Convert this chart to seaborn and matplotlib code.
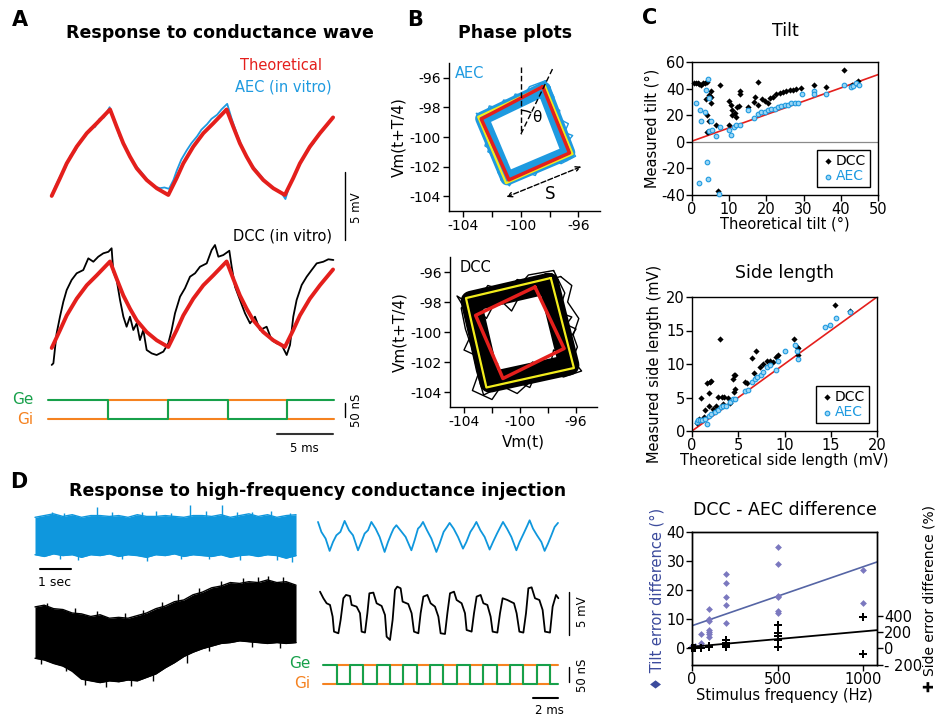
import numpy as np
import matplotlib
matplotlib.use("Agg")
import matplotlib.pyplot as plt
from matplotlib.patches import Arc
import seaborn as sns

sns.set_style("ticks")
plt.rcParams["font.family"] = ["DejaVu Sans"]
plt.rcParams["axes.unicode_minus"] = False
for k in ["text.color", "axes.labelcolor", "xtick.color", "ytick.color", "axes.edgecolor"]:
    plt.rcParams[k] = "black"

BLUE = "#1e9ae0"
DBLUE = "#0f97dd"
RED = "#e41f1c"
GREEN = "#17a04a"
ORANGE = "#f58220"
YELLOW = "#f2ec1c"
PURPLE = "#7b78bf"
SLATE = "#3b4a9c"

# ---- A: response to conductance wave (ms, mV relative to trough)
theo_t = [0.33, 1.07, 1.67, 2.56, 3.46, 4.35, 5.54, 6.13, 6.72, 7.32, 7.92, 8.81, 9.71, 10.74,
          11.48, 12.08, 12.97, 13.87, 14.76, 15.95, 16.54, 17.13, 17.73, 18.33, 19.22, 20.12, 21.15,
          21.89, 22.49, 23.38, 24.28, 25.45]
theo_v = [-0.07, 1.23, 2.32, 3.55, 4.54, 5.27, 6.29, 5.02, 3.8, 2.82, 1.96, 1.1, 0.49, 0,
          1.23, 2.32, 3.55, 4.54, 5.27, 6.29, 5.02, 3.8, 2.82, 1.96, 1.1, 0.49, 0,
          1.23, 2.32, 3.55, 4.54, 5.7]
aec_t = [0.3, 0.7, 1.1, 1.5, 2.0, 2.4, 2.9, 3.3, 3.8, 4.2, 4.6, 5.0,
         5.5, 5.9, 6.4, 6.9, 7.3, 7.8, 8.2, 8.7, 9.1, 9.6, 10.0, 10.4, 10.8,
         11.2, 11.5, 11.9, 12.4, 12.8, 13.3, 13.7, 14.2, 14.6, 15.1, 15.5, 16.0,
         16.4, 16.9, 17.3, 17.7, 18.2, 18.6, 19.1, 19.5, 20.0, 20.4, 20.8, 21.2,
         21.6, 21.9, 22.4, 22.8, 23.2, 23.7, 24.1, 24.6, 25.0, 25.5]
aec_v = [-0.1, 0.7, 1.4, 1.9, 2.9, 3.2, 4.0, 4.3, 4.9, 5.0, 5.6, 5.7,
         6.45, 5.6, 4.3, 3.6, 2.8, 2.2, 1.8, 1.3, 0.9, 0.6, 0.5, 0.55, 0.45,
         1.1, 1.8, 2.6, 3.3, 3.8, 4.3, 4.8, 5.2, 5.6, 5.9, 6.3, 6.7,
         5.6, 4.4, 3.6, 2.9, 2.2, 1.8, 1.3, 0.9, 0.5, 0.4, 0.2, -0.3,
         0.8, 1.3, 2.1, 2.7, 3.3, 3.8, 4.4, 4.8, 5.2, 5.75]
dcc_t = [0.33, 0.48, 0.77, 1.07, 1.37, 1.67, 2.11, 2.56, 3.15, 3.6,
         4.05, 4.49, 4.94, 5.39, 5.68, 5.83, 6.13, 6.43, 6.73, 7.02,
         7.32, 7.62, 7.92, 8.21, 8.51, 8.81, 9.26, 9.7, 10.3, 10.74,
         11.04, 11.34, 11.79, 12.23, 12.68, 13.13, 13.57, 14.17, 14.61, 14.91,
         15.21, 15.65, 16.19, 16.4, 16.7, 17.14, 17.59, 18.04, 18.48, 18.93,
         19.52, 19.97, 20.42, 20.86, 21.31, 21.61, 21.9, 22.2, 22.65, 23.1,
         23.54, 23.99, 24.58, 25.03, 25.48]
dcc_v = [-1.32, -1.2, 1.0, 2.23, 3.33, 4.19, 4.93, 5.42, 5.66, 6.52,
         6.27, 6.64, 6.89, 7.0, 7.26, 5.54, 4.93, 3.46, 2.23, 1.49,
         2.23, 1.25, 1.74, 0.51, 1.25, -0.22, -0.47, -0.59, -0.34, 0.27,
         1.25, 2.48, 3.7, 4.32, 5.17, 5.42, 5.9, 6.15, 7.13, 7.5,
         6.64, 6.76, 7.08, 5.9, 4.43, 3.46, 2.48, 1.74, 2.23, 1.25,
         1.49, 0.51, 0.27, 0.15, -0.59, 0.15, 2.23, 3.46, 4.56, 5.17,
         5.66, 6.15, 6.27, 6.45, 6.4]
ge_a_t = [0, 5.36, 10.71, 16.07, 21.34, 25.54]
ge_a = [80, 12, 80, 12, 80, 80]
gi_a = [12, 80, 12, 80, 12, 12]

# ---- B: phase plots (mV)
aec_red_x = [-98.48, -102.76, -100.83, -96.62, -98.48]
aec_red_y = [-96.6, -98.78, -102.9, -101.08, -96.6]
aec_yel_x = [-98.34, -102.97, -101.03, -96.41, -98.34]
aec_yel_y = [-96.54, -98.64, -103.12, -101.15, -96.54]
aec_band_x = [-98.4, -102.7, -100.95, -96.7, -98.4]
aec_band_y = [-96.75, -98.75, -102.8, -101.05, -96.75]
aec_loop1_x = [-98.3, -99.4, -100.1, -101.2, -101.8, -103.1, -102.2, -102.5, -101.5, -101.6, -100.8,
               -100.1, -99.0, -98.4, -97.2, -96.2, -97.1, -96.7, -97.9, -97.7, -98.3]
aec_loop1_y = [-96.2, -96.6, -97.7, -97.5, -98.6, -98.4, -99.5, -100.6, -101.2, -102.4, -103.3,
               -102.2, -102.6, -101.5, -101.8, -101.3, -100.0, -99.1, -98.5, -97.3, -96.2]
aec_loop2_x = [-98.6, -99.1, -100.4, -100.9, -102.2, -102.6, -101.9, -102.3, -101.0, -101.4, -100.2,
               -99.4, -98.6, -97.6, -96.8, -97.0, -96.4, -97.5, -97.3, -98.2, -98.6]
aec_loop2_y = [-96.9, -97.3, -97.1, -98.2, -97.9, -99.1, -99.8, -101.0, -101.6, -102.9, -102.9,
               -101.9, -102.2, -101.2, -101.6, -100.6, -99.9, -99.5, -98.2, -97.7, -96.9]
dcc_red_x = [-98.93, -103.17, -101.22, -96.85, -98.93]
dcc_red_y = [-97.0, -98.89, -103.1, -101.1, -97.0]
dcc_yel_x = [-97.8, -103.86, -102.4, -96.15, -97.8]
dcc_yel_y = [-96.4, -97.74, -103.7, -102.4, -96.4]
dcc_band_x = [-97.95, -103.5, -102.15, -96.5, -97.95]
dcc_band_y = [-96.75, -97.95, -103.35, -102.2, -96.75]
dcc_loop1_x = [-97.6, -99.4, -100.5, -102.3, -103.3, -104.5, -103.2, -104.0, -102.6, -103.4, -102.0,
               -100.9, -99.3, -98.6, -96.9, -95.6, -96.9, -96.0, -97.4, -96.8, -97.6]
dcc_loop1_y = [-95.9, -96.2, -97.4, -96.9, -98.3, -97.6, -99.6, -101.2, -101.8, -103.9, -104.5,
               -103.0, -103.7, -102.2, -103.0, -102.6, -101.1, -99.8, -99.2, -97.4, -95.9]
dcc_loop2_x = [-98.4, -99.8, -100.6, -101.6, -102.4, -103.3, -102.5, -102.9, -101.6, -101.9, -100.6,
               -99.9, -99.1, -97.9, -97.6, -96.5, -97.3, -96.3, -97.5, -97.2, -98.4]
dcc_loop2_y = [-97.5, -97.2, -98.6, -97.7, -99.1, -98.2, -100.4, -101.8, -102.1, -103.2, -102.6,
               -103.3, -102.0, -102.5, -101.2, -101.5, -100.3, -99.0, -98.6, -97.4, -97.5]
dcc_loop3_x = [-97.1, -98.9, -100.2, -101.2, -103.0, -104.2, -103.9, -103.5, -103.1, -102.6, -101.3,
               -100.2, -98.9, -97.6, -96.4, -95.9, -96.2, -95.8, -96.6, -96.3, -97.1]
dcc_loop3_y = [-96.3, -96.8, -96.5, -97.5, -97.3, -98.4, -99.8, -100.9, -102.6, -104.2, -103.6,
               -104.1, -103.0, -102.9, -102.1, -101.0, -100.2, -99.1, -98.0, -96.9, -96.3]

# ---- C: tilt, side length, DCC-AEC difference
tilt_dcc_x = [0.5, 1, 1.5, 2, 2.5, 3, 3.5, 4, 3.7, 4.7, 4, 4.6, 3.9, 4.4, 5.2, 5.2, 5.2, 6.4, 7.4, 7.0,
              9.9, 10.6, 10.8, 10, 10.8, 11.5, 11.9, 12, 12.8, 12.8, 12.5,
              15, 16.9, 17.7, 16.8, 17.7, 18.9, 19.5, 20.3, 20.9, 21.8, 22.7, 23.6, 24.5, 25.4, 26.3,
              27.1, 28, 29.4, 32.8, 36.1, 40.9, 43.1, 44, 44.6]
tilt_dcc_y = [44, 44, 44, 43.5, 43, 44, 44, 45, 32, 35, 20, 16, 7, 7.5, 38, 34, 29, 12.5, 43, -37,
              30.5, 28, 24, 12.5, 20, 22, 19, 26, 36, 38, 27,
              26, 34, 45, 30, 27.5, 32, 31, 29, 33, 34, 36, 37, 37.5, 38, 39,
              39, 40, 40.5, 42.5, 41, 54, 42.5, 44, 45.5]
tilt_aec_x = [1, 2.2, 2.5, 3.4, 3.7, 4.4, 4.7, 4, 4.4, 1.9, 4.7, 5.5, 5.2, 6.4, 7.4, 7.3,
              9.9, 10.6, 11.3, 11.9, 12.8, 15, 16.8, 17.7, 18.6, 19.5, 20.4, 21.3, 22.2, 23.1,
              24, 24.9, 25.8, 26.7, 27.6, 28.5, 29.7, 32.8, 32.8, 36.1, 40.9, 42.8, 43.3, 44.2, 44.9]
tilt_aec_y = [29, 24, 16, 22.5, 39, 47, 33, -15, -28, -31, 8, 9, 16, 4, 11, -39,
              9, 5, 11, 12.5, 12.5, 24, 18, 21, 22.5, 22.5, 24, 25, 25, 26,
              27, 27.5, 28, 29, 29, 29, 36, 38, 36, 36, 43, 41, 42, 44, 43]
side_dcc_x = [0.5, 0.8, 1, 1.3, 1.4, 1.6, 1.9, 2, 1.8, 1.8, 2.3, 2.6, 3, 2.8, 3.2, 3.5, 3.9, 3.4, 4.1,
              4.4, 4.5, 4.7, 4.7, 4.5, 5.7, 5.9, 6.5, 6.9, 6.7, 7.4, 7.7, 8.1, 8.4, 8.8, 9.1, 9.3,
              11, 11.3, 11.5, 11.5, 15.5, 17.1]
side_dcc_y = [1.2, 1.8, 5, 2.1, 3.1, 7.1, 7.3, 7.5, 5.6, 3.8, 3.3, 3.8, 13.8, 5.1, 5.1, 5.1, 5, 4.1, 4.2,
              7.7, 8.3, 8.3, 6.3, 5.8, 7.3, 7.1, 10.9, 12, 8.6, 9.5, 10, 10.5, 10.5, 10.3, 11.1, 11.3,
              13.8, 12.6, 12.4, 11.3, 18.8, 17.9]
side_aec_x = [0.5, 0.7, 0.9, 1.1, 1.4, 1.6, 1.8, 2.1, 2.5, 2.8, 3.1, 3.4, 3.7, 4.1, 4.4, 4.7,
              5.7, 6, 6.5, 6.8, 7, 7.5, 7.7, 8.1, 8.4, 9.1, 9.3, 10, 11.1, 11.3, 11.5,
              14.4, 14.9, 15.6, 17.1]
side_aec_y = [1.3, 1.6, 1.7, 1.6, 1.8, 1.1, 2.3, 2.6, 2.8, 3.1, 3.6, 3.8, 3.8, 4.3, 4.8, 4.8,
              6, 6.1, 7.3, 7.8, 8.1, 8.3, 8.8, 9.6, 9.8, 9.1, 10.5, 11.9, 12.9, 11.9, 10.8,
              15.5, 15.8, 16.8, 17.8]
tilt_freq = [0, 0, 20, 50, 50, 50, 100, 100, 100, 100, 100, 100, 100, 200, 200, 200, 200, 200,
             500, 500, 500, 500, 500, 500, 1000, 1000]
tilt_err = [0.5, 1.0, 1.0, 4.8, 1.7, 1.2, 13.7, 10.0, 9.3, 6.3, 5.5, 4.8, 3.9, 25.5, 22.5, 17.5, 15.0, 8.8,
            35.0, 29.0, 18.0, 17.5, 13.0, 12.0, 27.0, 15.5]
side_freq = [0, 10, 20, 50, 100, 100, 200, 200, 200, 200, 200, 500, 500, 500, 500, 500, 1000, 1000]
side_err = [0, 10, 8, 0, 28, 15, 102, 69, 53, 33, 20, 286, 184, 151, 102, 20, 388, -69]
fit_freq = [0, 1080]
tilt_fit = [7.8, 29.7]
side_fit = [20, 224]

# ---- D: high-frequency injection (s / ms, mV)
d_t = [0, 0.3, 0.6, 0.9, 1.2, 1.5, 1.8, 2.1, 2.4, 2.7, 3.0, 3.3, 3.6, 3.9, 4.2, 4.5, 4.8, 5.1,
       5.4, 5.7, 6.0, 6.3, 6.6, 6.9, 7.2, 7.5, 7.8, 8.1, 8.42]
aec_hi = [21.0, 21.2, 21.4, 21.1, 21.3, 21.0, 21.2, 21.2, 21.1, 21.2, 21.0, 21.3, 21.1, 21.1, 21.2,
          21.1, 21.0, 21.2, 21.2, 21.1, 21.3, 21.0, 21.2, 21.4, 21.1, 21.3, 21.0, 21.2, 21.3]
aec_lo = [16.7, 16.5, 16.8, 16.6, 16.7, 16.4, 16.7, 16.6, 16.8, 16.5, 16.7, 16.6, 16.4, 16.7, 16.6,
          16.8, 16.5, 16.7, 16.6, 16.5, 16.7, 16.4, 16.6, 16.7, 16.5, 16.7, 16.6, 16.3, 16.6]
aec_spk_t = [0.54, 0.95, 1.99, 2.5, 3.44, 3.9, 4.4, 5.0, 5.5, 6.02, 6.5, 6.99, 7.6, 8.23]
aec_spk_hi = [21.6, 21.5, 22.15, 21.6, 21.6, 21.7, 21.5, 22.4, 21.7, 22.45, 21.6, 21.6, 21.7, 21.5]
aec_spkb_t = [0.8, 1.4, 2.8, 3.6, 4.7, 5.6, 6.6, 7.8, 8.3]
aec_spkb_lo = [16.2, 16.1, 16.2, 16.0, 16.2, 16.2, 16.1, 16.1, 15.9]
dcc_hi = [10.7, 10.9, 10.5, 10.4, 10.0, 9.9, 9.6, 9.8, 9.4, 9.5, 9.4, 9.7, 10.0, 10.5, 10.8,
          11.3, 11.5, 12.1, 12.4, 12.9, 13.1, 13.5, 13.4, 13.6, 13.5, 13.8, 13.5, 13.6, 13.2]
dcc_lo = [4.8, 4.6, 4.2, 3.9, 3.3, 2.4, 2.2, 2.0, 2.2, 2.1, 2.3, 2.2, 2.6, 3.0, 3.7,
          4.3, 5.0, 5.5, 5.9, 6.2, 6.5, 6.6, 6.8, 6.7, 6.6, 6.5, 6.6, 6.5, 6.6]
dcc_spk_t = [0.4, 1.3, 2.0, 2.9, 3.5, 4.1, 4.6, 5.3, 6.0, 6.7, 7.2, 7.5, 8.0]
dcc_spk_hi = [11.2, 10.6, 10.2, 10.0, 10.4, 11.3, 12.2, 12.9, 13.7, 14.0, 14.1, 14.3, 14.1]
dcc_spkb_t = [0.2, 1.0, 1.6, 2.3, 3.1, 3.8, 4.9, 5.6, 7.0, 7.9]
dcc_spkb_lo = [4.1, 3.3, 1.7, 1.5, 1.6, 2.2, 4.3, 5.6, 6.1, 6.0]
bd_t = [0, 0.27, 0.61, 0.93, 1.2, 1.47, 1.79, 2.13, 2.48, 2.8, 3.2, 3.47, 3.73, 4.0, 4.27, 4.61, 4.93,
        5.33, 5.6, 5.87, 6.05, 6.27, 6.59, 7.01, 7.47, 7.73, 8.0, 8.19, 8.4, 8.72, 9.07, 9.47, 9.73,
        10.05, 10.32, 10.53, 10.85, 11.2, 11.6, 11.87, 12.19, 12.45, 12.67, 12.99, 13.33, 13.73, 14.0,
        14.32, 14.59, 14.8, 15.12, 15.47, 15.87, 16.13, 16.45, 16.72, 16.93, 17.2, 17.52, 17.87, 18.13,
        18.4, 18.67, 18.93, 19.2]
bd_v = [3.46, 2.31, 1.54, 0.12, 1.15, 1.92, 2.31, 3.58, 2.5, 1.92, 0.19, 1.15, 2.12, 2.5, 3.46, 2.69,
        1.73, 0, 1.15, 2.12, 2.69, 3.08, 2.5, 1.73, 0.19, 1.35, 2.69, 2.96, 3.46, 2.5, 1.54, 0, 0.96,
        2.31, 2.88, 3.35, 2.69, 1.73, 0.38, 1.15, 2.31, 2.88, 3.46, 2.5, 1.73, 0.27, 1.15, 2.12, 2.88,
        3.46, 2.69, 1.73, 0.19, 1.15, 2.12, 2.96, 3.65, 2.69, 1.92, 1.15, 0.12, 0.96, 1.92, 2.88, 3.35]
kd_t = [0.16, 0.43, 0.69, 0.96, 1.17, 1.28, 1.63, 1.81, 2.03, 2.24, 2.56, 2.69, 3.09, 3.36, 3.49, 3.76,
        3.95, 4.11, 4.43, 4.69, 5.09, 5.36, 5.49, 5.76, 5.97, 6.16, 6.34, 6.61, 6.77, 7.22, 7.49, 7.68,
        8.03, 8.21, 8.43, 8.75, 9.01, 9.36, 9.63, 9.81, 10.16, 10.35, 10.56, 10.88, 11.09, 11.49, 11.76,
        11.89, 12.29, 12.48, 12.69, 13.01, 13.23, 13.55, 13.81, 13.97, 14.35, 14.56, 14.77, 15.15, 15.41,
        15.68, 15.89, 16.11, 16.43, 16.64, 16.83, 17.09, 17.36, 17.71, 17.97, 18.16, 18.56, 18.77, 19.04,
        19.23]
kd_v = [4.8, 4.04, 3.46, 3.27, 1.92, 0.19, 0, 1.54, 4.04, 4.42, 4.3, 3.27, 3.07, 2.31, 0.19, 0.08,
        2.31, 4.61, 4.69, 3.46, 3.15, 2.11, -0.39, -0.77, 1.54, 5.0, 5.38, 5.19, 3.65, 3.38, 2.31, 0.19,
        0, 2.31, 4.23, 4.42, 3.46, 3.07, 1.92, 0, -0.08, 2.31, 4.61, 4.8, 3.84, 3.46, 2.31,
        0.38, 0.19, 2.31, 4.23, 4.42, 3.46, 3.27, 1.92, 0.19, 0.08, 2.31, 4.04, 3.84, 3.65,
        3.46, 2.31, 0.19, 0.08, 2.31, 5.19, 5.3, 4.04, 3.84, 2.69, 0.19, 0.08, 3.07, 4.42,
        4.04]
ge_d_t = [0.43, 1.5, 2.56, 3.63, 4.7, 5.76, 6.83, 7.9, 8.97, 10.03, 11.1, 12.17, 13.23, 14.3, 15.37,
          16.43, 17.5, 18.57, 19.23]
ge_d = [72, 10, 72, 10, 72, 10, 72, 10, 72, 10, 72, 10, 72, 10, 72, 10, 72, 10, 10]
gi_d = [10, 72, 10, 72, 10, 72, 10, 72, 10, 72, 10, 72, 10, 72, 10, 72, 10, 72, 72]

W, H = 936, 720
fig = plt.figure(figsize=(W / 100, H / 100), dpi=100)


def px_axes(x0, y0, x1, y1):
    return fig.add_axes([x0 / W, 1 - y1 / H, (x1 - x0) / W, (y1 - y0) / H])


def ftext(x, y, s, **kw):
    kw.setdefault("ha", "center")
    kw.setdefault("va", "center")
    fig.text(x / W, 1 - y / H, s, **kw)


# panel letters and titles
for lx, ly, s in [(20, 20, "A"), (415, 20, "B"), (650, 18, "C"), (19, 482, "D")]:
    ftext(lx, ly, s, fontsize=15, fontweight="bold")
ftext(220, 33, "Response to conductance wave", fontsize=12.5, fontweight="bold")
ftext(515, 33, "Phase plots", fontsize=12.5, fontweight="bold")
ftext(318, 491, "Response to high-frequency conductance injection", fontsize=12.5, fontweight="bold")

# ---------------- A
ax_a = px_axes(40, 50, 370, 460)
ax_a.set_axis_off()
ax_a.set_xlim(-0.714, 28.75)
ax_a.set_ylim(0, 30.15)
aec_base, dcc_base = 19.49, 8.31
ax_a.plot(aec_t, np.array(aec_v) + aec_base, color=BLUE, lw=1.3)
ax_a.plot(theo_t, np.array(theo_v) + aec_base, color=RED, lw=2.8, solid_joinstyle="round")
ax_a.plot(dcc_t, np.array(dcc_v) + dcc_base, color="k", lw=1.3)
ax_a.plot(theo_t, np.array(theo_v) + dcc_base, color=RED, lw=2.8, solid_joinstyle="round")
ax_a.plot([26.5, 26.5], [16.18, 21.18], color="k", lw=1)
ftext(322, 65, "Theoretical", color=RED, fontsize=10.5, ha="right")
ftext(332, 87, "AEC (in vitro)", color=BLUE, fontsize=10.5, ha="right")
ftext(332, 236, "DCC (in vitro)", color="k", fontsize=10.5, ha="right")
ftext(357, 208, "5 mV", fontsize=8.5, rotation=90)

ax_ga = px_axes(40, 390, 370, 460)
ax_ga.set_axis_off()
ax_ga.set_xlim(-0.714, 28.75)
ax_ga.set_ylim(-134.4, 115.6)
ax_ga.plot(ge_a_t, gi_a, drawstyle="steps-post", color=ORANGE, lw=1.5)
ax_ga.plot(ge_a_t, ge_a, drawstyle="steps-post", color=GREEN, lw=1.5)
ax_ga.plot([26.5, 26.5], [19, 69], color="k", lw=1)
ax_ga.plot([20.45, 25.45], [-41.6, -41.6], color="#333333", lw=1.5)
ftext(23, 399, "Ge", color=GREEN, fontsize=11)
ftext(25, 419, "Gi", color=ORANGE, fontsize=11)
ftext(357, 410, "50 nS", fontsize=8.5, rotation=90)
ftext(304, 449, "5 ms", fontsize=8.5)


# ---------------- B
def phase_axes(ax):
    ax.set_xlim(-105, -94.5)
    ax.set_ylim(-105, -95)
    sns.despine(ax=ax)
    ax.set_xticks([-104, -102, -100, -98, -96])
    ax.set_xticklabels(["-104", "", "-100", "", "-96"])
    ax.set_yticks([-104, -102, -100, -98, -96])
    ax.tick_params(direction="out", length=4, width=1, labelsize=10, pad=2)
    ax.set_ylabel("Vm(t+T/4)", fontsize=11, labelpad=2)
    for sp in ax.spines.values():
        sp.set_linewidth(1)


ax_b1 = px_axes(449, 63, 600, 211)
phase_axes(ax_b1)
ax_b1.plot(aec_band_x, aec_band_y, color=BLUE, lw=10, solid_joinstyle="round")
ax_b1.plot(aec_loop1_x, aec_loop1_y, color=BLUE, lw=1)
ax_b1.plot(aec_loop2_x, aec_loop2_y, color=BLUE, lw=1)
ax_b1.plot(aec_yel_x, aec_yel_y, color=YELLOW, lw=1.6)
ax_b1.plot(aec_red_x, aec_red_y, color=RED, lw=2.5)
ax_b1.plot([-100, -100], [-95.3, -99.8], color="k", lw=1, ls=(0, (4, 2)))
ax_b1.plot([-100, -97.8], [-99.8, -95.4], color="k", lw=1, ls=(0, (4, 2)))
ax_b1.add_patch(Arc((-100, -99.8), 3.2, 3.2, theta1=63, theta2=90, lw=1, color="k"))
ax_b1.text(-98.9, -98.7, "θ", fontsize=11, ha="center", va="center")
ax_b1.annotate("", xy=(-101, -104.05), xytext=(-95.8, -102),
               arrowprops=dict(arrowstyle="<->", ls="--", lw=1, color="k",
                               shrinkA=0, shrinkB=0, mutation_scale=8))
ax_b1.text(-98.0, -103.85, "S", fontsize=12, ha="center", va="center")
ax_b1.text(-104.6, -95.7, "AEC", color=BLUE, fontsize=10.5, ha="left", va="center")

ax_b2 = px_axes(450, 257, 597, 407)
phase_axes(ax_b2)
ax_b2.plot(dcc_band_x, dcc_band_y, color="k", lw=15, solid_joinstyle="round")
ax_b2.plot(dcc_loop1_x, dcc_loop1_y, color="k", lw=1)
ax_b2.plot(dcc_loop2_x, dcc_loop2_y, color="k", lw=1)
ax_b2.plot(dcc_loop3_x, dcc_loop3_y, color="k", lw=1)
ax_b2.plot(dcc_yel_x, dcc_yel_y, color=YELLOW, lw=1.6)
ax_b2.plot(dcc_red_x, dcc_red_y, color=RED, lw=2.5)
ax_b2.text(-104.3, -95.7, "DCC", color="k", fontsize=10.5, ha="left", va="center")
ax_b2.set_xlabel("Vm(t)", fontsize=11, labelpad=4)


# ---------------- C
def c_axes(ax):
    ax.tick_params(direction="out", length=4, width=1, labelsize=10.5, pad=1)
    for sp in ax.spines.values():
        sp.set_linewidth(1)


def c_legend(ax):
    leg = ax.legend(loc="lower right", frameon=True, fancybox=False, framealpha=1, edgecolor="k",
                    fontsize=10, handletextpad=0.1, borderpad=0.25, labelspacing=0.1,
                    handlelength=1.0, borderaxespad=0.6)
    leg.get_frame().set_linewidth(1)
    for txt, c in zip(leg.get_texts(), ["k", BLUE]):
        txt.set_color(c)


ax_c1 = px_axes(692, 62, 878, 195)
c_axes(ax_c1)
ax_c1.axhline(0, color="#8a8a8a", lw=0.9)
ax_c1.plot([0, 50], [0.5, 50.5], color=RED, lw=1.2)
sns.scatterplot(x=tilt_dcc_x, y=tilt_dcc_y, ax=ax_c1, marker="D", s=10, color="k", linewidth=0,
                label="DCC", zorder=3, clip_on=False)
sns.scatterplot(x=tilt_aec_x, y=tilt_aec_y, ax=ax_c1, marker="o", s=11, color="#9ad6f5",
                edgecolor=BLUE, linewidth=0.8, label="AEC", zorder=3, clip_on=False)
ax_c1.set_xlim(0, 50)
ax_c1.set_ylim(-40, 60)
ax_c1.set_xticks([0, 10, 20, 30, 40, 50])
ax_c1.set_yticks([-40, -20, 0, 20, 40, 60])
ax_c1.set_title("Tilt", fontsize=12.5, pad=19)
ax_c1.set_xlabel("Theoretical tilt (°)", fontsize=10.5, labelpad=0)
ax_c1.set_ylabel("Measured tilt (°)", fontsize=10.5, labelpad=1)
c_legend(ax_c1)

ax_c2 = px_axes(692, 297, 877, 431)
c_axes(ax_c2)
ax_c2.plot([0, 20], [0, 20], color=RED, lw=1.2)
sns.scatterplot(x=side_dcc_x, y=side_dcc_y, ax=ax_c2, marker="D", s=10, color="k", linewidth=0,
                label="DCC", zorder=3)
sns.scatterplot(x=side_aec_x, y=side_aec_y, ax=ax_c2, marker="o", s=11, color="#9ad6f5",
                edgecolor=BLUE, linewidth=0.8, label="AEC", zorder=3)
ax_c2.set_xlim(0, 20)
ax_c2.set_ylim(0, 20)
ax_c2.set_xticks([0, 5, 10, 15, 20])
ax_c2.set_yticks([0, 5, 10, 15, 20])
ax_c2.set_title("Side length", fontsize=12.5, pad=14)
ax_c2.set_xlabel("Theoretical side length (mV)", fontsize=10.5, labelpad=0)
ax_c2.set_ylabel("Measured side length (mV)", fontsize=10.5, labelpad=3)
c_legend(ax_c2)

ax_c3 = px_axes(692, 532, 877, 665)
c_axes(ax_c3)
ax_c3.plot(fit_freq, tilt_fit, color="#5565a5", lw=1.2)
sns.scatterplot(x=tilt_freq, y=tilt_err, ax=ax_c3, marker="D", s=12, color=PURPLE, linewidth=0,
                zorder=3, clip_on=False)
ax_c3.set_xlim(0, 1080)
ax_c3.set_ylim(-5.7, 40)
ax_c3.set_xticks([0, 500, 1000])
ax_c3.set_yticks([0, 10, 20, 30, 40])
ax_c3.set_title("DCC - AEC difference", fontsize=12.5, pad=12)
ax_c3.set_xlabel("Stimulus frequency (Hz)", fontsize=10.5, labelpad=1)
ax_c3.set_ylabel("♦ Tilt error difference (°)", fontsize=10.5, color=SLATE, labelpad=1)
ax_r = ax_c3.twinx()
c_axes(ax_r)
ax_r.plot(fit_freq, side_fit, color="k", lw=1.3)
sns.scatterplot(x=side_freq, y=side_err, ax=ax_r, marker="P", s=30, color="k", linewidth=0,
                zorder=3, clip_on=False)
ax_r.set_ylim(-203.6, 1428)
ax_r.set_yticks([-200, 0, 200, 400])
ax_r.set_yticklabels(["- 200", "0", "200", "400"])
ax_r.set_ylabel("✚ Side error difference (%)", fontsize=10, labelpad=0)

# ---------------- D
ax_d1 = px_axes(30, 500, 300, 700)
ax_d1.set_axis_off()
ax_d1.set_xlim(-0.161, 8.548)
ax_d1.set_ylim(0, 22.99)
ax_d1.fill_between(d_t, aec_lo, aec_hi, color=DBLUE, lw=0)
ax_d1.plot(d_t, aec_hi, color=DBLUE, lw=1)
ax_d1.plot(d_t, aec_lo, color=DBLUE, lw=1)
ax_d1.vlines(aec_spk_t, 19, aec_spk_hi, color=DBLUE, lw=1)
ax_d1.vlines(aec_spkb_t, aec_spkb_lo, 19, color=DBLUE, lw=1)
ax_d1.fill_between(d_t, dcc_lo, dcc_hi, color="k", lw=0)
ax_d1.plot(d_t, dcc_hi, color="k", lw=1)
ax_d1.plot(d_t, dcc_lo, color="k", lw=1)
ax_d1.vlines(dcc_spk_t, 8, dcc_spk_hi, color="k", lw=1)
ax_d1.vlines(dcc_spkb_t, dcc_spkb_lo, 8, color="k", lw=1)
ax_d1.plot([0.16, 1.16], [15.06, 15.06], color="k", lw=1.5)
ftext(55, 582, "1 sec", fontsize=9)

ax_d2 = px_axes(300, 500, 600, 720)
ax_d2.set_axis_off()
ax_d2.set_xlim(-1.44, 22.56)
ax_d2.set_ylim(0, 25.37)
ax_d2.plot(bd_t, np.array(bd_v) + 19.38, color=DBLUE, lw=1.3)
ax_d2.plot(kd_t, np.array(kd_v) + 10.0, color="k", lw=1.3)
ax_d2.plot([20.08, 20.08], [9.8, 14.8], color="k", lw=1)

ax_d3 = px_axes(300, 650, 600, 720)
ax_d3.set_axis_off()
ax_d3.set_xlim(-1.44, 22.56)
ax_d3.set_ylim(-111.7, 121.7)
ax_d3.plot(ge_d_t, gi_d, drawstyle="steps-post", color=ORANGE, lw=1.5)
ax_d3.plot(ge_d_t, ge_d, drawstyle="steps-post", color=GREEN, lw=1.5)
ax_d3.plot([20.08, 20.08], [15, 65], color="k", lw=1)
ax_d3.plot([17.2, 19.2], [-38.3, -38.3], color="k", lw=1.5)
ftext(310, 664, "Ge", color=GREEN, fontsize=11, ha="right")
ftext(310, 683, "Gi", color=ORANGE, fontsize=11, ha="right")
ftext(583, 612, "5 mV", fontsize=8.5, rotation=90)
ftext(583, 675, "50 nS", fontsize=8.5, rotation=90)
ftext(549, 710, "2 ms", fontsize=8.5)

fig.savefig("out.png", dpi=100)
